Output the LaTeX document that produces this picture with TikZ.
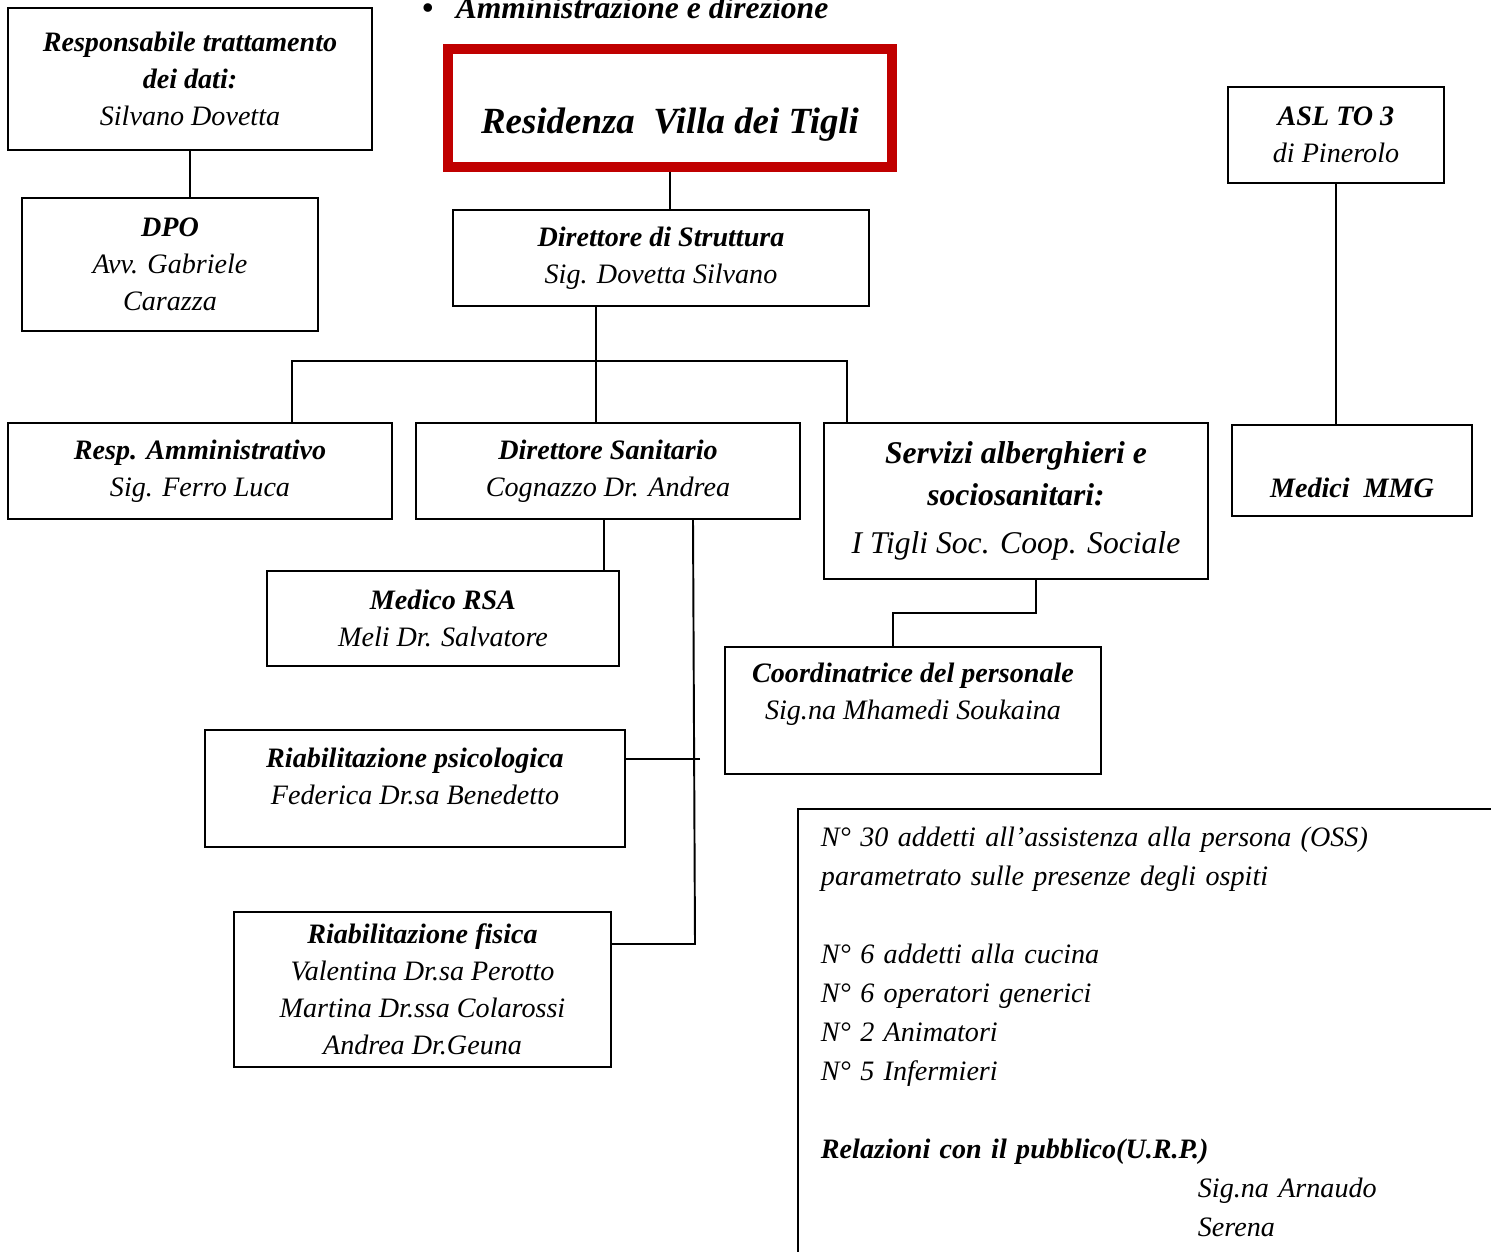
\documentclass[tikz,border=0pt]{standalone}
\usepackage{fontspec}
\setmainfont{Liberation Serif}
\usepackage{tikz}
\usetikzlibrary{positioning}
\definecolor{villared}{RGB}{192,0,0}

\begin{document}
\begin{tikzpicture}[
  x=0.02cm, y=-0.02cm,
  box/.style={draw, line width=1.1pt, inner sep=0pt, align=center, font=\fontsize{16}{21}\selectfont\itshape},
  txt/.style={align=center, font=\fontsize{16}{21}\selectfont\itshape},
  link/.style={line width=1.1pt}]
  \useasboundingbox (0,0) rectangle (1491,1251);
  \node[anchor=base west, font=\fontsize{18}{22}\selectfont\bfseries\itshape] (head) at (416,18) {\textbullet\hspace{0.45cm}Amministrazione e direzione};
  \node[draw=villared, line width=5.7pt, inner sep=0pt, minimum width=8.88cm, minimum height=2.36cm, text height=1.16cm, font=\fontsize{21}{25}\selectfont\bfseries\itshape] (villa) at (670,108) {Residenza\ \ Villa dei Tigli};
  \node[box, minimum width=7.28cm, minimum height=2.84cm] (resp) at (190,79) {\textbf{Responsabile trattamento}\\ \textbf{dei dati:}\\ Silvano Dovetta};
  \node[box, minimum width=5.92cm, minimum height=2.66cm] (dpo) at (170,264.5) {\textbf{DPO}\\ Avv. Gabriele\\ Carazza};
  \node[box, minimum width=8.32cm, minimum height=1.92cm] (dirs) at (661,258) {\textbf{Direttore di Struttura}\\ Sig. Dovetta Silvano};
  \node[box, minimum width=4.32cm, minimum height=1.92cm] (asl) at (1336,135) {\textbf{ASL TO 3}\\ di Pinerolo};
  \node[box, minimum width=7.68cm, minimum height=1.92cm] (amm) at (200,471) {\textbf{Resp. Amministrativo}\\ Sig. Ferro Luca};
  \node[box, minimum width=7.68cm, minimum height=1.92cm] (dsan) at (608,471) {\textbf{Direttore Sanitario}\\ Cognazzo Dr. Andrea};
  \node[box, minimum width=7.68cm, minimum height=3.12cm, font=\fontsize{18}{24}\selectfont\itshape] (serv) at (1016,501) {\textbf{Servizi alberghieri e}\\ \textbf{sociosanitari:}\\[3pt] I Tigli Soc. Coop. Sociale};
  \node[box, minimum width=4.8cm, minimum height=1.82cm, text height=1.06cm, text depth=0pt] (mmg) at (1352,470.5) {\textbf{Medici\ \ MMG}};
  \node[box, minimum width=7.04cm, minimum height=1.9cm] (rsa) at (443,618.5) {\textbf{Medico RSA}\\ Meli Dr. Salvatore};
  \node[box, minimum width=7.52cm, minimum height=2.54cm, label={[txt, yshift=0.32cm]center:{\textbf{Coordinatrice del personale}\\ Sig.na Mhamedi Soukaina}}] (coord) at (913,710.5) {};
  \node[box, minimum width=8.4cm, minimum height=2.34cm, label={[txt, yshift=0.24cm]center:{\textbf{Riabilitazione psicologica}\\ Federica Dr.sa Benedetto}}] (psi) at (415,788.5) {};
  \node[box, minimum width=7.54cm, minimum height=3.1cm] (fis) at (422.5,989.5) {\textbf{Riabilitazione fisica}\\ Valentina Dr.sa Perotto\\ Martina Dr.ssa Colarossi\\ Andrea Dr.Geuna};
  \node[draw, line width=1.1pt, anchor=north west, inner xsep=0.46cm, inner ysep=0.36cm, text width=16cm, align=left, font=\fontsize{16}{22.2}\selectfont\itshape] (staff) at (797,808) {N° 30 addetti all’assistenza alla persona (OSS)\\ parametrato sulle presenze degli ospiti\\[22.2pt] N° 6 addetti alla cucina\\ N° 6 operatori generici\\ N° 2 Animatori\\ N° 5 Infermieri\\[22.2pt] \textbf{Relazioni con il pubblico(U.R.P.)}\\ \hspace*{7.54cm}Sig.na Arnaudo\\ \hspace*{7.54cm}Serena\rule[-1.5cm]{0pt}{1.5cm}};
  \coordinate (mid) at (596,361);
  \coordinate (lft) at (292,361);
  \coordinate (rgt) at (847,361);
  \coordinate (rsx) at (604,545);
  \coordinate (spt) at (693,523);
  \coordinate (spb) at (695,944);
  \coordinate (psx) at (700,759);
  \coordinate (cka) at (1036,613);
  \coordinate (ckb) at (893,613);
  \draw[link] (resp.south) -- (resp.south |- dpo.north);
  \draw[link] (villa.south) -- (villa.south |- dirs.north);
  \draw[link] (mid |- dirs.south) -- (mid);
  \draw[link] (lft |- amm.north) -- (lft) -- (rgt) -- (rgt |- serv.north);
  \draw[link] (mid) -- (mid |- dsan.north);
  \draw[link] (rsx |- dsan.south) -- (rsx |- rsa.north);
  \draw[link] (spt |- dsan.south) -- (spb) -- (fis.east |- spb);
  \draw[link] (psx) -- (psi.east |- psx);
  \draw[link] (cka |- serv.south) -- (cka) -- (ckb) -- (ckb |- coord.north);
  \draw[link] (asl.south) -- (asl.south |- mmg.north);
\end{tikzpicture}
\end{document}
